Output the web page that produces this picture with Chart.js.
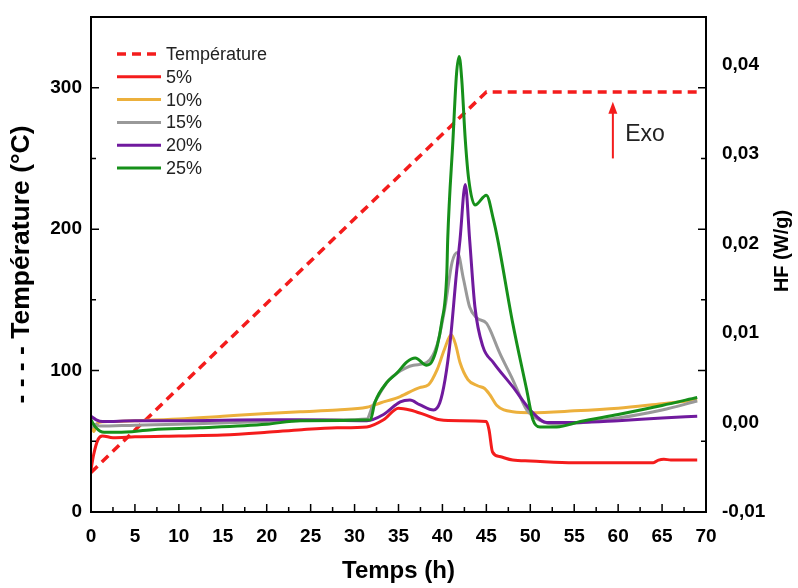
<!DOCTYPE html>
<html>
<head>
<meta charset="utf-8">
<script src="https://cdn.jsdelivr.net/npm/chart.js@4.4.1/dist/chart.umd.min.js"></script>
<style>
  html, body { margin: 0; padding: 0; background: #fff; }
  #wrap { width: 798px; height: 588px; }
</style>
</head>
<body>
<div id="wrap"><canvas id="chart"></canvas></div>
<script>
// Température (°C), axe gauche
const tempTime = [0, 45, 69.5];
const tempValues = [28, 297, 297];

// HF (W/g), axe droit
const time5 = [0, 0.3, 0.8, 1.3, 2.5, 5, 10, 15, 20, 24, 28, 31.4, 33.3, 35, 36.3, 38.2, 39.7, 42, 45, 45.3, 45.7, 46.5, 48, 50, 55, 60, 64, 64.6, 65.2, 66, 69];
const hf5 = [-0.0053, -0.0036, -0.0019, -0.0015, -0.0017, -0.0016, -0.0015, -0.0014, -0.0011, -0.0008, -0.0006, -0.0005, 0.0003, 0.0016, 0.0014, 0.0008, 0.0003, 0.0002, 0.0001, -0.0008, -0.0033, -0.0038, -0.0042, -0.0043, -0.0045, -0.0045, -0.0045, -0.0042, -0.0041, -0.0042, -0.0042];

const time10 = [0, 0.3, 0.8, 2, 5, 10, 15, 20, 23.8, 28, 31.4, 33, 35.2, 37.4, 38.4, 39.4, 40.2, 41, 41.5, 42, 42.9, 44, 44.8, 45.4, 46.2, 47, 48, 50, 55, 60, 65, 69];
const hf10 = [0.0001, -0.001, 0.0, 0.0001, 0.0002, 0.0004, 0.0007, 0.001, 0.0012, 0.0014, 0.0017, 0.0022, 0.0029, 0.0039, 0.0042, 0.0059, 0.0081, 0.0098, 0.0087, 0.0067, 0.0048, 0.0041, 0.0038, 0.0031, 0.0019, 0.0014, 0.0012, 0.0011, 0.0013, 0.0016, 0.0021, 0.0025];

const time15 = [0, 0.5, 1, 5, 10, 20, 28, 31.4, 32, 32.9, 33.7, 34.8, 36.7, 38.2, 39.4, 40.3, 41.1, 41.7, 42.4, 43.1, 43.9, 45, 45.4, 46.5, 48, 49.6, 51, 53, 56, 60, 65, 69];
const hf15 = [-0.0006, -0.0002, -0.0004, -0.0003, -0.0002, 0.0001, 0.0003, 0.0004, 0.0017, 0.0033, 0.0045, 0.0055, 0.0064, 0.0067, 0.0087, 0.0129, 0.0179, 0.019, 0.016, 0.0129, 0.0117, 0.0111, 0.0104, 0.0078, 0.0048, 0.0014, 0.0003, -0.0002, 0.0, 0.0005, 0.0014, 0.0024];

const time20 = [0, 0.6, 1.3, 5, 10, 20, 23.8, 31.4, 33.3, 35.2, 36.3, 37.4, 39, 39.7, 40.3, 40.9, 41.6, 42, 42.6, 43.1, 43.7, 44.6, 45.8, 48, 50, 51.9, 55.7, 60, 65, 69];
const hf20 = [0.0007, 0.0003, 0.0001, 0.0002, 0.0002, 0.0003, 0.0003, 0.0002, 0.0009, 0.0023, 0.0025, 0.002, 0.0014, 0.0022, 0.0048, 0.0092, 0.0167, 0.0204, 0.0266, 0.0204, 0.0129, 0.0085, 0.0067, 0.004, 0.0014, 0.0, 0.0, 0.0002, 0.0005, 0.0007];

const time25 = [0, 0.5, 1.5, 3, 7, 12.4, 20, 23.8, 31.8, 32.3, 33.7, 34.8, 36, 36.9, 38.2, 38.8, 39.4, 39.9, 40.5, 40.6, 41.2, 41.6, 41.9, 42.2, 42.6, 43, 43.7, 45, 45.8, 46.3, 48, 49.6, 50.3, 51.1, 53, 55.7, 60, 65, 69];
const hf25 = [0.0003, -0.0005, -0.0011, -0.0011, -0.0008, -0.0006, -0.0002, 0.0002, 0.0003, 0.0022, 0.0045, 0.0055, 0.0068, 0.0072, 0.0064, 0.0068, 0.0085, 0.0111, 0.0167, 0.0204, 0.0316, 0.0389, 0.0409, 0.0383, 0.0316, 0.0271, 0.0243, 0.0254, 0.0227, 0.0204, 0.0111, 0.0036, 0.0003, -0.0005, -0.0005, 0.0001, 0.0009, 0.0019, 0.0028];

const seriesNames = ['Température', '5%', '10%', '15%', '20%', '25%'];
const seriesColors = ['#f41c1c', '#f41c1c', '#ecb03c', '#999999', '#701a9e', '#16901a'];

const xTicksMajor = 5;
const tempTicksMajor = 100;

function pts(xs, ys) {
  return xs.map((x, i) => ({ x: x, y: ys[i] }));
}

Chart.defaults.font.family = "'Liberation Sans', Arial, sans-serif";
Chart.defaults.color = '#000';

// cadre, graduations internes, légende, titre droit et flèche "Exo"
const framePlugin = {
  id: 'frame',
  afterDraw(chart) {
    const ctx = chart.ctx;
    const ca = chart.chartArea;
    const xs = chart.scales.x;
    const ys = chart.scales.y;
    ctx.save();
    ctx.strokeStyle = '#000';
    ctx.lineWidth = 2;
    ctx.setLineDash([]);
    ctx.strokeRect(ca.left, ca.top, ca.right - ca.left, ca.bottom - ca.top);

    ctx.lineWidth = 1.5;
    ctx.beginPath();
    for (let v = 0; v <= 70; v += xTicksMajor / 2) {
      const px = xs.getPixelForValue(v);
      const len = (v % xTicksMajor === 0) ? 8 : 5;
      ctx.moveTo(px, ca.bottom);
      ctx.lineTo(px, ca.bottom - len);
    }
    for (let v = 0; v <= 350; v += tempTicksMajor / 2) {
      const py = ys.getPixelForValue(v);
      const len = (v % tempTicksMajor === 0) ? 8 : 5;
      ctx.moveTo(ca.left, py);
      ctx.lineTo(ca.left + len, py);
      ctx.moveTo(ca.right, py);
      ctx.lineTo(ca.right - len, py);
    }
    ctx.stroke();

    // légende
    const lx = ca.left + 26, ly = ca.top + 37, step = 22.8;
    ctx.font = "18px 'Liberation Sans', Arial, sans-serif";
    ctx.textBaseline = 'middle';
    ctx.textAlign = 'left';
    chart.data.datasets.forEach((ds, i) => {
      const y = ly + i * step;
      ctx.strokeStyle = ds.borderColor;
      ctx.lineWidth = ds.borderWidth;
      ctx.setLineDash(ds.borderDash || []);
      ctx.beginPath();
      ctx.moveTo(lx, y);
      ctx.lineTo(lx + 44, y);
      ctx.stroke();
      ctx.fillStyle = '#222';
      ctx.fillText(ds.label, lx + 49, y + 1);
    });

    // titre de l'axe droit (lu de bas en haut)
    ctx.save();
    ctx.translate(782, 251);
    ctx.rotate(-Math.PI / 2);
    ctx.fillStyle = '#000';
    ctx.font = "bold 20px 'Liberation Sans', Arial, sans-serif";
    ctx.textAlign = 'center';
    ctx.textBaseline = 'middle';
    ctx.fillText('HF (W/g)', 0, 0);
    ctx.restore();

    // flèche Exo
    const ax = xs.getPixelForValue(59.4);
    const ay0 = ys.getPixelForValue(250);
    const ay1 = ys.getPixelForValue(290);
    ctx.setLineDash([]);
    ctx.strokeStyle = '#f41c1c';
    ctx.fillStyle = '#f41c1c';
    ctx.lineWidth = 2;
    ctx.beginPath();
    ctx.moveTo(ax, ay0);
    ctx.lineTo(ax, ay1 + 10);
    ctx.stroke();
    ctx.beginPath();
    ctx.moveTo(ax, ay1);
    ctx.lineTo(ax - 4.5, ay1 + 12);
    ctx.lineTo(ax + 4.5, ay1 + 12);
    ctx.closePath();
    ctx.fill();
    ctx.fillStyle = '#222';
    ctx.font = "23px 'Liberation Sans', Arial, sans-serif";
    ctx.textBaseline = 'alphabetic';
    ctx.textAlign = 'left';
    ctx.fillText('Exo', xs.getPixelForValue(60.8), ys.getPixelForValue(262));
    ctx.restore();
  }
};

const hfSets = [[time5, hf5], [time10, hf10], [time15, hf15], [time20, hf20], [time25, hf25]];

const datasets = [{
  label: seriesNames[0],
  data: pts(tempTime, tempValues),
  yAxisID: 'y',
  borderColor: seriesColors[0],
  borderWidth: 3.5,
  borderDash: [9, 6],
  pointRadius: 0,
  tension: 0
}];
hfSets.forEach((s, i) => {
  datasets.push({
    label: seriesNames[i + 1],
    data: pts(s[0], s[1]),
    yAxisID: 'y2',
    borderColor: seriesColors[i + 1],
    borderWidth: 3,
    pointRadius: 0,
    cubicInterpolationMode: 'monotone'
  });
});
// 25 % tracé au-dessus, puis 20 %, etc.
datasets.forEach((d, i) => { d.order = -i; });

function noVPad(s) {
  s.paddingTop = 0;
  s.paddingBottom = 0;
}

new Chart(document.getElementById('chart'), {
  type: 'line',
  data: { datasets: datasets },
  options: {
    responsive: true,
    maintainAspectRatio: false,
    animation: false,
    layout: { padding: { top: 17, left: 0, right: 0, bottom: 0 } },
    plugins: {
      legend: { display: false },
      tooltip: { enabled: false }
    },
    scales: {
      x: {
        type: 'linear',
        min: 0,
        max: 70,
        grid: { display: false, drawTicks: false },
        border: { display: false },
        ticks: { stepSize: 5, padding: 13, font: { size: 19, weight: 'bold' }, color: '#000' },
        title: { display: true, text: 'Temps (h)', font: { size: 24, weight: 'bold' }, color: '#000', padding: { top: 0, bottom: 2 } },
        afterFit(s) { s.height = 76; }
      },
      y: {
        position: 'left',
        min: 0,
        max: 350,
        grid: { display: false, drawTicks: false },
        border: { display: false },
        ticks: { stepSize: 100, includeBounds: false, padding: 9, font: { size: 19, weight: 'bold' }, color: '#000' },
        title: { display: true, text: '- - - - Température (°C)', font: { size: 26.5, weight: 'bold' }, color: '#000', padding: { top: 6, bottom: 0 } },
        afterFit(s) { s.width = 91; noVPad(s); }
      },
      y2: {
        position: 'right',
        min: -0.01,
        max: 0.0453,
        grid: { display: false, drawTicks: false },
        border: { display: false },
        ticks: {
          stepSize: 0.01,
          includeBounds: false,
          padding: 16,
          font: { size: 19, weight: 'bold' },
          color: '#000',
          callback: v => (Math.round(v * 100) / 100).toFixed(2).replace('.', ',')
        },
        title: { display: false },
        afterFit(s) { s.width = 92; noVPad(s); }
      }
    }
  },
  plugins: [framePlugin]
});
</script>
</body>
</html>
